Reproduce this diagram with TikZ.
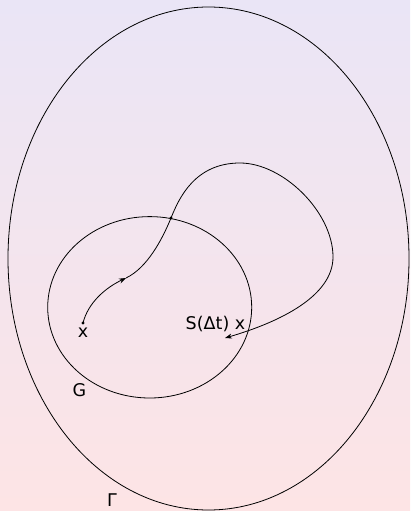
\documentclass[tikz,border=0pt]{standalone}
\usepackage{fontspec}
\setmainfont{DejaVu Sans}
\usetikzlibrary{arrows.meta}
\definecolor{bgtop}{RGB}{234,229,246}
\definecolor{bgbot}{RGB}{253,228,229}
\tikzset{
  curve/.style={line width=0.8pt, black},
  tip/.style={-{Stealth[length=7pt,width=5pt]}},
  dot/.style={circle, fill=black, inner sep=0pt, minimum size=3.4pt},
  lbl/.style={font=\fontsize{17.5}{20}\selectfont, inner sep=0pt, anchor=base},
}
\begin{document}
\begin{tikzpicture}[x=1pt,y=-1pt]
\useasboundingbox (0,0) rectangle (410,511);
\fill[top color=bgtop, bottom color=bgbot] (0,0) rectangle (410,511);
% sets
\draw[curve] (208.5,258.5) ellipse [x radius=200.5, y radius=251.5];
\draw[curve] (149.7,307.3) ellipse [x radius=102, y radius=90.7];
% points
\node[dot] (x0) at (83,323) {};
\node[dot] (p) at (171,218) {};
\coordinate (m) at (126,278);
\coordinate (top) at (240,163);
\coordinate (rt) at (333,257);
\coordinate (end) at (225,338);
% trajectory
\draw[curve, tip] (x0.center) .. controls (88,303) and (105,288) .. (m);
\draw[curve] (m) .. controls (147,268) and (162,240) .. (p.center)
  .. controls (179,198) and (195,163) .. (top)
  .. controls (283,163) and (333,212) .. (rt);
\draw[curve, tip] (rt) .. controls (333,296) and (280,322) .. (end);
% labels
\node[lbl] (lx) at (83,337.5) {x};
\node[lbl] (ls) at (215.5,329.5) {S(Δt) x};
\node[lbl] (lG) at (79.5,396) {G};
\node[lbl] (lGamma) at (112,506.7) {Γ};
\end{tikzpicture}
\end{document}
